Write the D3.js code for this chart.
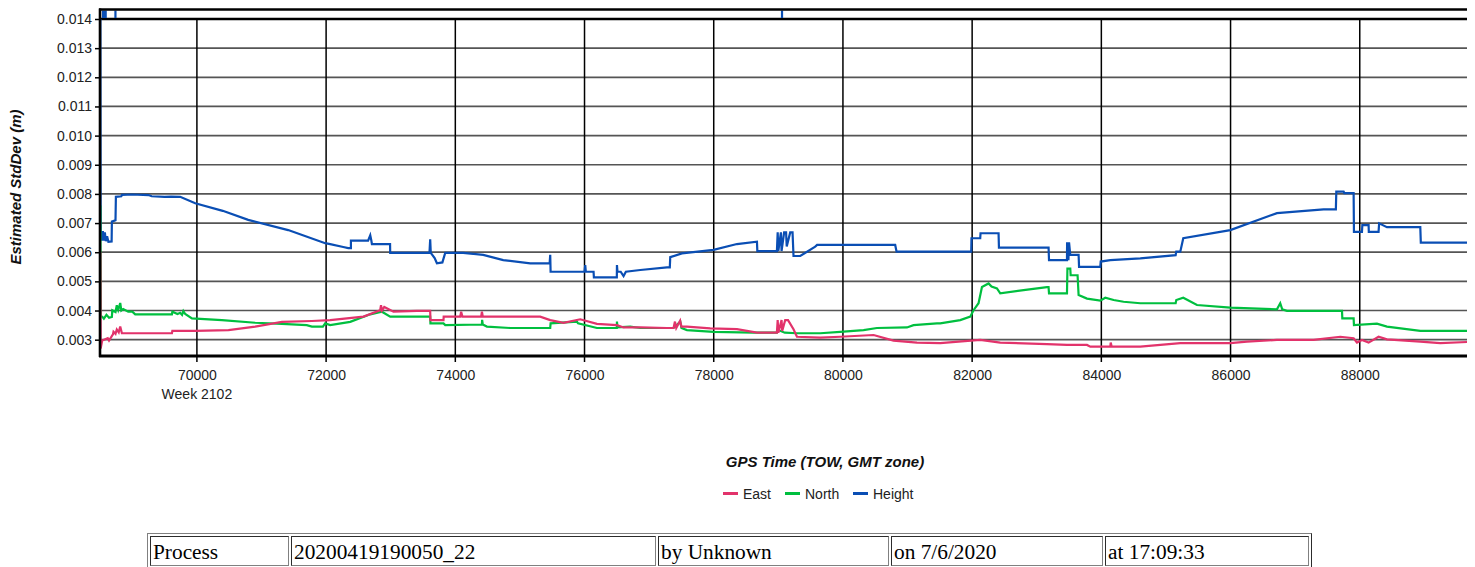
<!DOCTYPE html>
<html>
<head>
<meta charset="utf-8">
<script src="https://cdn.jsdelivr.net/npm/d3@7"></script>
<style>
  html, body { margin: 0; padding: 0; background: #fff; width: 1475px; height: 567px; overflow: hidden; }
  #chart { position: absolute; left: 0; top: 0; }
  table.info {
    position: absolute; left: 147px; top: 533px; width: 1165px; table-layout: fixed;
    border: 1px outset #808080; border-spacing: 2px;
    font-family: "Liberation Serif", "Times New Roman", serif; font-size: 16pt; color: #000;
  }
  table.info td { border: 1px inset #808080; padding: 3px 1px 1px 2px; white-space: nowrap; overflow: hidden; line-height: 24px; }
</style>
</head>
<body>
<svg id="chart" width="1475" height="567"></svg>
<script>
// ---- data -------------------------------------------------------------
const xTicks = [70000, 72000, 74000, 76000, 78000, 80000, 82000, 84000, 86000, 88000];
const yTicks = [0.003, 0.004, 0.005, 0.006, 0.007, 0.008, 0.009, 0.010, 0.011, 0.012, 0.013, 0.014];
const weekLabel = "Week 2102";
const seriesNames = ["East", "North", "Height"];

// [GPS time of week (s), estimated std dev (m)]
const heightData = [
  [68505, 0.0150], [68510, 0.0066], [68530, 0.0064], [68545, 0.00672], [68560, 0.0064],
  [68575, 0.00668], [68590, 0.00638], [68610, 0.00655], [68630, 0.00636], [68680, 0.00637],
  [68684, 0.00705], [68740, 0.00710], [68746, 0.00790], [68830, 0.00792], [68840, 0.00797],
  [69000, 0.00798], [69250, 0.00796], [69300, 0.00792], [69500, 0.00790], [69600, 0.00791],
  [69741, 0.00790], [69974, 0.00768], [70400, 0.00742], [70794, 0.00711], [71413, 0.00676],
  [71986, 0.00631], [72063, 0.00628], [72265, 0.00618], [72342, 0.00614], [72384, 0.00614],
  [72384, 0.00640], [72650, 0.00640], [72683, 0.00658], [72700, 0.00640], [72709, 0.00628],
  [72990, 0.00628], [72992, 0.00598], [73600, 0.00598], [73611, 0.00644], [73620, 0.00598],
  [73680, 0.00580], [73715, 0.00562], [73800, 0.00565], [73844, 0.00598], [74122, 0.00598],
  [74432, 0.00591], [74742, 0.00573], [75160, 0.00562], [75460, 0.00562], [75469, 0.00591],
  [75475, 0.00533], [76000, 0.00533], [76011, 0.00556], [76020, 0.00533], [76140, 0.00533],
  [76145, 0.00514], [76500, 0.00514], [76502, 0.00556], [76510, 0.00533], [76560, 0.00533],
  [76604, 0.00518], [76640, 0.00533], [76863, 0.00539], [77276, 0.00548], [77320, 0.00548],
  [77327, 0.00583], [77508, 0.00596], [77997, 0.00608], [78359, 0.00628], [78669, 0.00636],
  [78675, 0.00604], [78978, 0.00604], [78990, 0.00668], [79000, 0.00604], [79040, 0.00668],
  [79050, 0.00604], [79090, 0.00668], [79120, 0.00668], [79130, 0.00620], [79184, 0.00668],
  [79220, 0.00668], [79235, 0.00587], [79339, 0.00587], [79571, 0.00619], [79600, 0.00625],
  [80809, 0.00625], [80830, 0.00602], [81986, 0.00602], [81990, 0.00648], [82125, 0.00648],
  [82130, 0.00665], [82409, 0.00665], [82415, 0.00616], [83183, 0.00616], [83190, 0.00573],
  [83468, 0.00573], [83470, 0.00634], [83490, 0.00573], [83500, 0.00634], [83519, 0.00591],
  [83648, 0.00591], [83655, 0.00550], [83984, 0.00550], [83990, 0.00568], [84139, 0.00573],
  [84603, 0.00579], [85150, 0.00590], [85160, 0.00602], [85222, 0.00602], [85268, 0.00648],
  [85996, 0.00676], [86718, 0.00734], [87440, 0.00747], [87630, 0.00747], [87637, 0.00808],
  [87750, 0.00808], [87760, 0.00803], [87905, 0.00803], [87910, 0.00670], [88034, 0.00670],
  [88040, 0.00693], [88137, 0.00693], [88140, 0.00670], [88291, 0.00670], [88300, 0.00699],
  [88421, 0.00686], [88937, 0.00686], [88945, 0.00633], [89664, 0.00633]
];

// Height excursions beyond the top of the scale: [start, end] of each
const heightOffScale = [[68530, 68605], [68722, 68728], [79040, 79046]];

const northData = [
  [68505, 0.0076], [68510, 0.0038], [68534, 0.00379], [68560, 0.00372], [68600, 0.00385],
  [68640, 0.00375], [68684, 0.00378], [68690, 0.00401], [68740, 0.00395], [68760, 0.00418],
  [68782, 0.00402], [68813, 0.00426], [68830, 0.00400], [68859, 0.00405], [68937, 0.00396],
  [69000, 0.00396], [69045, 0.00387], [69613, 0.00387], [69620, 0.00396], [69700, 0.00388],
  [69740, 0.00392], [69770, 0.00385], [69790, 0.00398], [69819, 0.00388], [69923, 0.00373],
  [70387, 0.00367], [70902, 0.00358], [71316, 0.00354], [71700, 0.00350], [71780, 0.00345],
  [71950, 0.00345], [71986, 0.00356], [72063, 0.00350], [72373, 0.00361], [72683, 0.00387],
  [72864, 0.00396], [72992, 0.00379], [73611, 0.00379], [73615, 0.00356], [73817, 0.00356],
  [73844, 0.00350], [74412, 0.00352], [74415, 0.00368], [74425, 0.00352], [74489, 0.00345],
  [74850, 0.00340], [75469, 0.00340], [75475, 0.00356], [75882, 0.00362], [75900, 0.00356],
  [76192, 0.00340], [76500, 0.00340], [76502, 0.00362], [76510, 0.00342], [76708, 0.00345],
  [76863, 0.00340], [77378, 0.00340], [77482, 0.00362], [77500, 0.00340], [77585, 0.00333],
  [77997, 0.00327], [78616, 0.00324], [78978, 0.00324], [79000, 0.00333], [79100, 0.00324],
  [79288, 0.00322], [79649, 0.00322], [79958, 0.00327], [80319, 0.00333], [80526, 0.00340],
  [80991, 0.00342], [81093, 0.00350], [81455, 0.00356], [81506, 0.00356], [81816, 0.00367],
  [81971, 0.00379], [82022, 0.00401], [82099, 0.00425], [82152, 0.00481], [82254, 0.00493],
  [82300, 0.00482], [82384, 0.00476], [82435, 0.00459], [82796, 0.00470], [83158, 0.00480],
  [83183, 0.00480], [83190, 0.00459], [83468, 0.00459], [83475, 0.00544], [83519, 0.00544],
  [83525, 0.00521], [83632, 0.00521], [83648, 0.00453], [83778, 0.00441], [83984, 0.00434],
  [84061, 0.00444], [84190, 0.00436], [84344, 0.00430], [84603, 0.00425], [85150, 0.00425],
  [85160, 0.00436], [85268, 0.00444], [85480, 0.00419], [85996, 0.00410], [86718, 0.00404],
  [86769, 0.00425], [86800, 0.00404], [86873, 0.00399], [87725, 0.00399], [87730, 0.00373],
  [87905, 0.00373], [87910, 0.00350], [88266, 0.00355], [88421, 0.00345], [88937, 0.00330],
  [89664, 0.00330]
];

const eastData = [
  [68505, 0.0060], [68510, 0.0027], [68534, 0.00297], [68620, 0.00305], [68640, 0.00297],
  [68700, 0.00318], [68709, 0.00327], [68740, 0.00320], [68760, 0.00335], [68790, 0.00325],
  [68813, 0.00345], [68839, 0.00322], [69613, 0.00322], [69620, 0.00330], [69974, 0.00330],
  [70489, 0.00333], [70902, 0.00345], [71316, 0.00361], [71780, 0.00364], [72063, 0.00367],
  [72579, 0.00379], [72837, 0.00401], [72850, 0.00418], [72864, 0.00400], [72900, 0.00412],
  [73043, 0.00396], [73406, 0.00399], [73611, 0.00399], [73615, 0.00367], [73817, 0.00367],
  [73820, 0.00379], [74076, 0.00379], [74090, 0.00396], [74110, 0.00379], [74400, 0.00379],
  [74412, 0.00396], [74425, 0.00379], [75314, 0.00379], [75469, 0.00367], [75675, 0.00358],
  [75933, 0.00370], [76192, 0.00354], [76502, 0.00350], [76604, 0.00342], [76863, 0.00342],
  [77276, 0.00340], [77378, 0.00340], [77400, 0.00362], [77420, 0.00340], [77480, 0.00365],
  [77500, 0.00345], [77585, 0.00345], [77946, 0.00339], [78359, 0.00336], [78669, 0.00324],
  [78978, 0.00324], [78990, 0.00367], [79000, 0.00324], [79050, 0.00367], [79060, 0.00330],
  [79106, 0.00367], [79150, 0.00367], [79235, 0.00336], [79288, 0.00310], [79649, 0.00307],
  [79958, 0.00310], [80474, 0.00316], [80783, 0.00297], [81146, 0.00290], [81506, 0.00288],
  [82125, 0.00299], [82435, 0.00290], [83158, 0.00285], [83468, 0.00282], [83778, 0.00282],
  [83829, 0.00276], [84139, 0.00276], [84145, 0.00290], [84160, 0.00276], [84603, 0.00276],
  [85222, 0.00288], [85996, 0.00288], [86254, 0.00293], [86718, 0.00299], [87285, 0.00299],
  [87699, 0.00310], [87905, 0.00305], [87957, 0.00290], [88034, 0.00299], [88137, 0.00290],
  [88291, 0.00310], [88421, 0.00301], [88937, 0.00293], [89246, 0.00288], [89664, 0.00292]
];

const axisTitleX = "GPS Time (TOW, GMT zone)";
const axisTitleY = "Estimated StdDev (m)";
const tableCells = ["Process", "20200419190050_22", "by Unknown", "on 7/6/2020", "at 17:09:33"];

// ---- layout and styles ------------------------------------------------
const colors = { East: "#e2336b", North: "#00bf3f", Height: "#0a4eb4" };
const plot = { left: 100, right: 1467, bandTop: 9.5, top: 19, bottom: 356 };
const cellWidths = [134, 360, 226, 207, 199];
const font = "'Liberation Sans', Arial, sans-serif";

const svg = d3.select("#chart");

const x = d3.scaleLinear().domain([68500, 89660]).range([plot.left, plot.right]);
const y = d3.scaleLinear().domain([0.00244, 0.014]).range([plot.bottom, plot.top]);

svg.append("defs").append("clipPath").attr("id", "plotClip")
  .append("rect")
  .attr("x", plot.left).attr("y", plot.top)
  .attr("width", plot.right - plot.left).attr("height", plot.bottom - plot.top);

// horizontal grid
svg.append("g").selectAll("line").data(yTicks).join("line")
  .attr("x1", plot.left).attr("x2", plot.right)
  .attr("y1", d => y(d)).attr("y2", d => y(d))
  .attr("stroke", d => d === 0.014 ? "#000" : "#555")
  .attr("stroke-width", d => d === 0.014 ? 2.4 : 1.7);

// vertical grid, running down into the tick marks
svg.append("g").selectAll("line").data(xTicks).join("line")
  .attr("x1", d => x(d)).attr("x2", d => x(d))
  .attr("y1", plot.top).attr("y2", plot.bottom + 6)
  .attr("stroke", "#000").attr("stroke-width", 1.5);

// y axis ticks and labels
const yAxis = d3.axisLeft(y).tickValues(yTicks).tickFormat(d3.format(".3f")).tickSize(5).tickPadding(3);
const gy = svg.append("g").attr("transform", `translate(${plot.left},0)`).call(yAxis);
gy.select(".domain").remove();
gy.selectAll(".tick line").attr("stroke", "#000").attr("stroke-width", 1.5);
gy.selectAll(".tick text").attr("font-family", font).attr("font-size", 14).attr("fill", "#222");

// x axis labels
const xAxis = d3.axisBottom(x).tickValues(xTicks).tickFormat(d3.format("d")).tickSize(0).tickPadding(14);
const gx = svg.append("g").attr("transform", `translate(0,${plot.bottom})`).call(xAxis);
gx.select(".domain").remove();
gx.selectAll(".tick text").attr("font-family", font).attr("font-size", 14).attr("fill", "#222");

svg.append("text")
  .attr("x", x(xTicks[0])).attr("y", 399)
  .attr("text-anchor", "middle")
  .attr("font-family", font).attr("font-size", 14).attr("fill", "#222")
  .text(weekLabel);

// series, Height underneath, East on top
const line = d3.line().x(d => x(d[0])).y(d => y(d[1]));
const seriesData = { East: eastData, North: northData, Height: heightData };
svg.append("g").attr("clip-path", "url(#plotClip)")
  .selectAll("path").data(["Height", "North", "East"]).join("path")
  .attr("d", k => line(seriesData[k]))
  .attr("fill", "none")
  .attr("stroke", k => colors[k])
  .attr("stroke-width", 2.2)
  .attr("stroke-linejoin", "miter");

// off-scale strip above the 0.014 line
svg.append("g").selectAll("rect").data(heightOffScale).join("rect")
  .attr("x", d => x(d[0]))
  .attr("width", d => Math.max(2.2, x(d[1]) - x(d[0])))
  .attr("y", plot.bandTop + 1)
  .attr("height", plot.top - plot.bandTop - 2)
  .attr("fill", colors.Height);

// frame
svg.append("line").attr("x1", plot.left - 1).attr("x2", plot.right)
  .attr("y1", plot.bandTop).attr("y2", plot.bandTop)
  .attr("stroke", "#000").attr("stroke-width", 2.4);
svg.append("line").attr("x1", plot.left - 1).attr("x2", plot.right)
  .attr("y1", plot.bottom).attr("y2", plot.bottom)
  .attr("stroke", "#000").attr("stroke-width", 2.8);
svg.append("line").attr("x1", plot.left).attr("x2", plot.left)
  .attr("y1", plot.bandTop - 1).attr("y2", plot.bottom + 1)
  .attr("stroke", "#000").attr("stroke-width", 2.6);

// axis titles
svg.append("text")
  .attr("x", 825).attr("y", 467)
  .attr("text-anchor", "middle")
  .attr("font-family", font).attr("font-size", 15)
  .attr("font-weight", "bold").attr("font-style", "italic").attr("fill", "#111")
  .text(axisTitleX);

svg.append("text")
  .attr("transform", "translate(21,187) rotate(-90)")
  .attr("text-anchor", "middle")
  .attr("font-family", font).attr("font-size", 15)
  .attr("font-weight", "bold").attr("font-style", "italic").attr("fill", "#111")
  .text(axisTitleY);

// legend
const legendX = [723, 785, 853];
const lg = svg.append("g").selectAll("g").data(seriesNames).join("g")
  .attr("transform", (d, i) => `translate(${legendX[i]},493.5)`);
lg.append("line").attr("x1", 0).attr("x2", 15).attr("y1", 0).attr("y2", 0)
  .attr("stroke", d => colors[d]).attr("stroke-width", 3);
lg.append("text").attr("x", 20).attr("y", 5)
  .attr("font-family", font).attr("font-size", 14).attr("fill", "#222")
  .text(d => d);

// run information table
const table = d3.select("body").append("table").attr("class", "info");
table.append("tr").selectAll("td").data(tableCells).join("td")
  .style("width", (d, i) => cellWidths[i] + "px")
  .text(d => d);
</script>
</body>
</html>
